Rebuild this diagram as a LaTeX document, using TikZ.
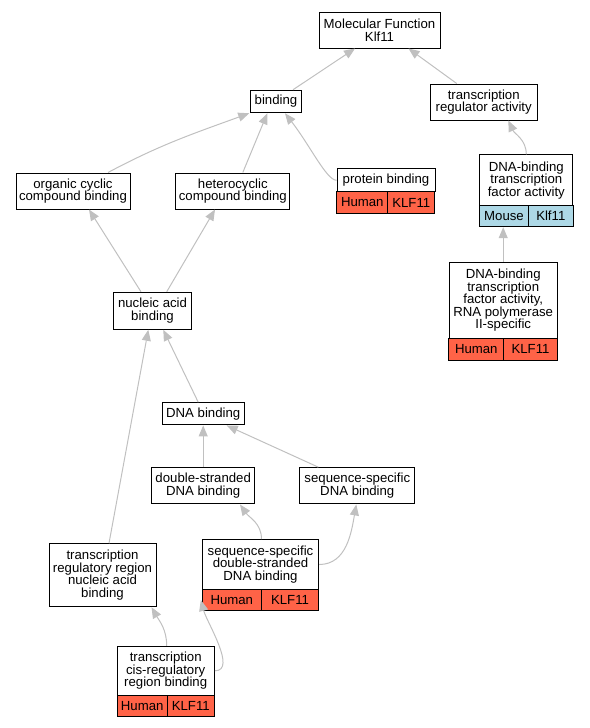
\documentclass[tikz,border=0pt]{standalone}
\usepackage{fontspec}
\setmainfont{Liberation Sans}
\usetikzlibrary{arrows.meta}
\definecolor{tomato}{HTML}{FF6347}
\definecolor{lightblue}{HTML}{ADD8E6}
\definecolor{edgegray}{HTML}{C0C0C0}

\begin{document}
\begin{tikzpicture}[
  x=1pt, y=-1pt,
  term/.style={rectangle, draw=black, fill=white, line width=1pt, align=center, inner sep=0pt, font=\fontsize{13.2}{12.6}\selectfont},
  human/.style={term, fill=tomato},
  mouse/.style={term, fill=lightblue},
  arrow/.style={draw=edgegray, line width=1pt, -{Triangle[length=11pt, width=9pt]}}
]
\useasboundingbox (0,0) rectangle (589,728);

% Terms
\node (mf) [term, minimum width=121pt, minimum height=36pt] at (379.5,30) {Molecular Function\\Klf11};
\node (bind) [term, minimum width=50.5pt, minimum height=22.5pt] at (276,101.5) {binding};
\node (tra) [term, minimum width=107pt, minimum height=36pt] at (483.7,102) {transcription\\regulator activity};
\node (pb) [term, minimum width=98pt, minimum height=22.7pt] at (386,180.3) {protein binding};
\node (pbhs) [human, minimum width=50.7pt, minimum height=21.6pt] at (362.3,202.5) {Human};
\node (pbgene) [human, minimum width=47.3pt, minimum height=21.6pt] at (411.3,202.5) {KLF11};
\node (dtf) [term, minimum width=93.3pt, minimum height=50.7pt] at (526.3,180.3) {DNA-binding\\transcription\\factor activity};
\node (dtfmm) [mouse, minimum width=48.6pt, minimum height=21pt] at (504,216.2) {Mouse};
\node (dtfgene) [mouse, minimum width=44.7pt, minimum height=21pt] at (550.8,216.2) {Klf11};
\node (ocb) [term, minimum width=114pt, minimum height=36pt] at (73,191) {organic cyclic\\compound binding};
\node (hcb) [term, minimum width=114.3pt, minimum height=36pt] at (232.8,191) {heterocyclic\\compound binding};
\node (nab) [term, minimum width=78.3pt, minimum height=37pt] at (152.5,310.8) {nucleic acid\\binding};
\node (rna) [term, minimum width=108.3pt, minimum height=76pt] at (503.2,300.3) {DNA-binding\\transcription\\factor activity,\\RNA polymerase\\II-specific};
\node (rnahs) [human, minimum width=54.7pt, minimum height=21.7pt] at (476.3,349.2) {Human};
\node (rnagene) [human, minimum width=53.6pt, minimum height=21.7pt] at (530.5,349.2) {KLF11};
\node (dnab) [term, minimum width=81.7pt, minimum height=22.3pt] at (203.2,413.8) {DNA binding};
\node (dsb) [term, minimum width=103pt, minimum height=36.3pt] at (203.2,485.8) {double-stranded\\DNA binding};
\node (ssb) [term, minimum width=115.3pt, minimum height=36.3pt] at (357.3,485.8) {sequence-specific\\DNA binding};
\node (trr) [term, minimum width=107pt, minimum height=63pt] at (102.5,575.2) {transcription\\regulatory region\\nucleic acid\\binding};
\node (ssds) [term, minimum width=116.4pt, minimum height=49.6pt] at (260.5,564.5) {sequence-specific\\double-stranded\\DNA binding};
\node (ssdshs) [human, minimum width=59pt, minimum height=21.4pt] at (231.8,600) {Human};
\node (ssdsgene) [human, minimum width=57.4pt, minimum height=21.4pt] at (290,600) {KLF11};
\node (cis) [term, minimum width=97.3pt, minimum height=49pt] at (165.7,670.8) {transcription\\cis-regulatory\\region binding};
\node (cishs) [human, minimum width=50.3pt, minimum height=21.4pt] at (142.2,706) {Human};
\node (cisgene) [human, minimum width=47pt, minimum height=21.4pt] at (190.8,706) {KLF11};

% Is-a edges
\draw [arrow] ([xshift=17pt]bind.north) -- ([xshift=-24.5pt]mf.south);
\draw [arrow] ([xshift=-27pt]tra.north) -- ([xshift=29pt]mf.south);
\draw [arrow] ([xshift=35pt]ocb.north) to[out=28, in=200] ([xshift=-1pt]bind.south west);
\draw [arrow] ([xshift=10pt]hcb.north) -- ([xshift=-8.7pt]bind.south);
\draw [arrow] (pb.west) to[out=180, in=-52, out looseness=0.3, in looseness=1.2] ([xshift=9pt]bind.south);
\draw [arrow] (dtf.north) to[out=90, in=-65] ([xshift=24.6pt]tra.south);
\draw [arrow] (rna.north) -- (rna.north |- dtfmm.south);
\draw [arrow] ([xshift=-11.5pt]nab.north) -- ([xshift=16pt]ocb.south);
\draw [arrow] ([xshift=14.2pt]nab.north) -- ([xshift=-17.8pt]hcb.south);
\draw [arrow] ([xshift=-5pt]dnab.north) -- ([xshift=10.8pt]nab.south);
\draw [arrow] ([xshift=6.5pt]trr.north) -- ([xshift=-4.2pt]nab.south);
\draw [arrow] (dsb.north) -- (dnab.south);
\draw [arrow] ([xshift=-39pt]ssb.north) -- ([xshift=23.5pt]dnab.south);
\draw [arrow] ([xshift=1pt]ssds.north) to[out=90, in=-55] ([xshift=36.8pt]dsb.south);
\draw [arrow] (ssds.east) to[out=0, in=-100] ([xshift=-1pt]ssb.south);
\draw [arrow] ([xshift=1pt]cis.north) to[out=90, in=-60] ([xshift=49pt]trr.south);
\draw [arrow] (cis.east) to[out=0, in=-75, looseness=0.8] ([xshift=-1pt]ssdshs.west);
\end{tikzpicture}
\end{document}
